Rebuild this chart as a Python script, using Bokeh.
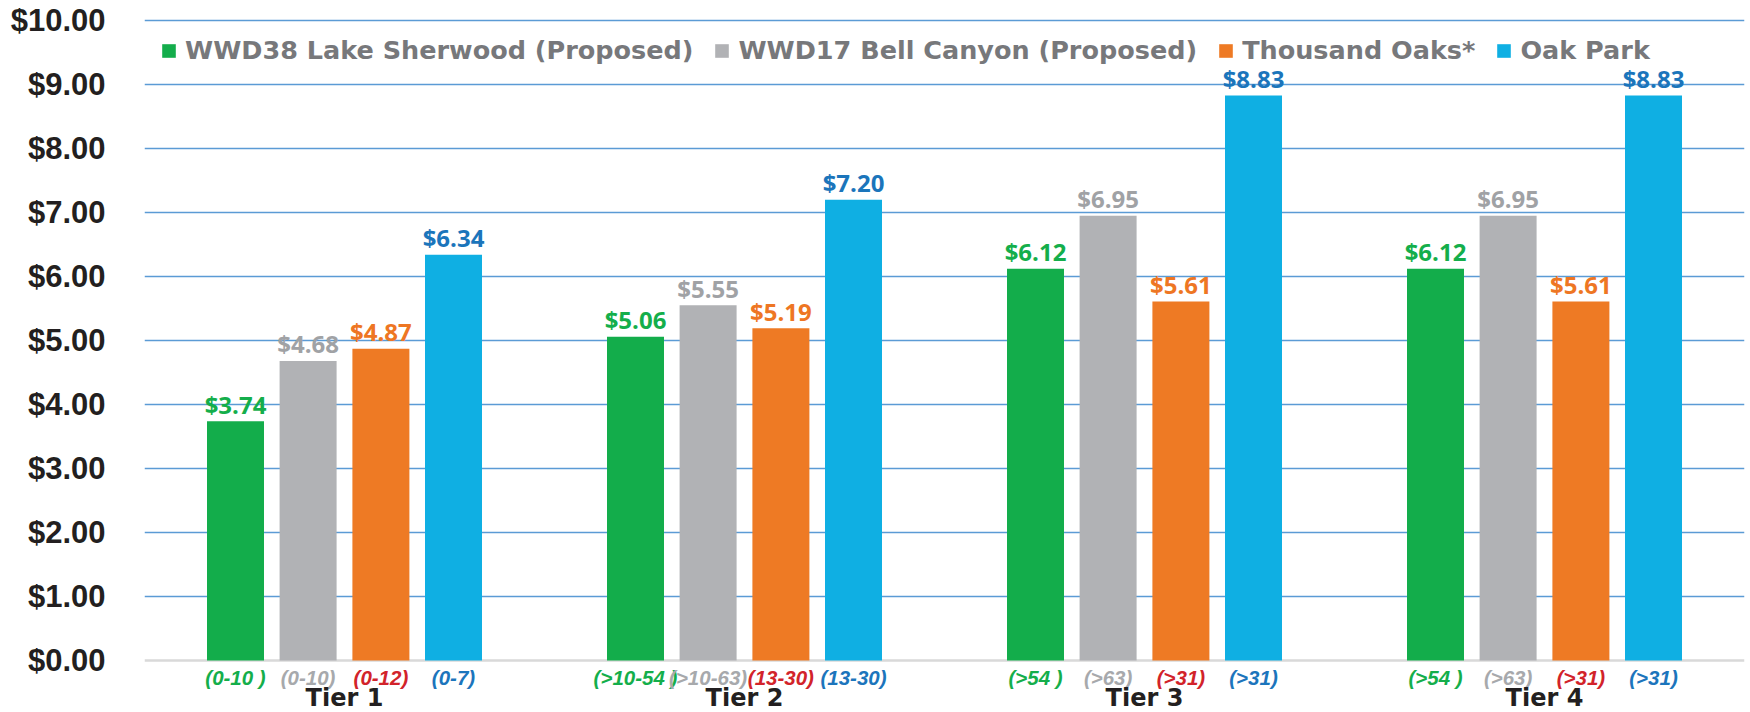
from bokeh.plotting import figure
from bokeh.models import (FactorRange, Range1d, FixedTicker, PrintfTickFormatter,
                          Span, Legend, LegendItem, ColumnDataSource)
from bokeh.transform import dodge
from bokeh.core.properties import value
from bokeh.embed import file_html
from bokeh.resources import INLINE

# ---------------- data ----------------
tiers = ["Tier 1", "Tier 2", "Tier 3", "Tier 4"]
series_names = ["WWD38 Lake Sherwood (Proposed)", "WWD17 Bell Canyon (Proposed)",
                "Thousand Oaks*", "Oak Park"]
wwd38_rates = [3.74, 5.06, 6.12, 6.12]
wwd17_rates = [4.68, 5.55, 6.95, 6.95]
thousand_oaks_rates = [4.87, 5.19, 5.61, 5.61]
oak_park_rates = [6.34, 7.20, 8.83, 8.83]
wwd38_ranges = ["(0-10 )", "(>10-54 )", "(>54 )", "(>54 )"]
wwd17_ranges = ["(0-10)", "(>10-63)", "(>63)", "(>63)"]
thousand_oaks_ranges = ["(0-12)", "(13-30)", "(>31)", "(>31)"]
oak_park_ranges = ["(0-7)", "(13-30)", "(>31)", "(>31)"]
y_ticks = [0, 1, 2, 3, 4, 5, 6, 7, 8, 9, 10]

# ---------------- styles ----------------
bar_colors = ["#13ad4b", "#b1b2b5", "#ee7a24", "#0fafe3"]
value_colors = ["#14ae4b", "#a0a2a5", "#ee7623", "#1b75bb"]
range_colors = ["#14ae4b", "#a7a9ac", "#d2232a", "#1c75bc"]
offsets = [-0.2725, -0.091, 0.091, 0.2725]
bar_width = 0.1425

p = figure(width=1750, height=712,
           x_range=FactorRange(*tiers, range_padding=0),
           y_range=Range1d(-0.8125, 10.03125),
           x_axis_location=None,
           output_backend="svg", toolbar_location=None,
           min_border_left=144, min_border_right=6,
           min_border_top=18, min_border_bottom=0)
p.outline_line_color = None
p.background_fill_color = "white"
p.border_fill_color = "white"

# axis
p.yaxis.ticker = FixedTicker(ticks=y_ticks)
p.yaxis.formatter = PrintfTickFormatter(format="$%.2f")
p.yaxis.axis_line_color = None
p.yaxis.major_tick_line_color = None
p.yaxis.minor_tick_line_color = None
p.yaxis.major_tick_out = 0
p.yaxis.major_tick_in = 0
p.yaxis.major_label_standoff = 39
p.yaxis.major_label_text_font = "Liberation Sans"
p.yaxis.major_label_text_font_style = "bold"
p.yaxis.major_label_text_font_size = "31px"
p.yaxis.major_label_text_color = "#231f20"

p.xgrid.grid_line_color = None
p.ygrid.ticker = FixedTicker(ticks=y_ticks[1:])
p.ygrid.grid_line_color = "#5b9bd5"
p.ygrid.grid_line_width = 1.5

p.add_layout(Span(location=0, dimension="width", line_color="#d9d9d9",
                  line_width=2.5, level="underlay"))

all_rates = [wwd38_rates, wwd17_rates, thousand_oaks_rates, oak_park_rates]
all_ranges = [wwd38_ranges, wwd17_ranges, thousand_oaks_ranges, oak_park_ranges]

items = []
for i in range(4):
    src = ColumnDataSource(dict(tier=tiers, val=all_rates[i],
                                lab=["$%.2f" % v for v in all_rates[i]],
                                rng=all_ranges[i]))
    xd = dodge("tier", offsets[i], range=p.x_range)
    r = p.vbar(x=xd, top="val", bottom=0, width=bar_width, source=src,
               fill_color=bar_colors[i], line_color=None)
    p.text(x=xd, y="val", text="lab", source=src, text_align="center",
           text_baseline="middle", y_offset=-17,
           text_font=value("Open Sans"), text_font_style="bold",
           text_font_size="24px", text_color=value_colors[i])
    p.text(x=xd, y=-0.265, text="rng", source=src, text_align="center",
           text_baseline="middle",
           text_font=value("Liberation Sans"), text_font_style="bold italic",
           text_font_size="20.5px", text_color=range_colors[i])
    items.append(LegendItem(label=series_names[i], renderers=[r]))

tier_src = ColumnDataSource(dict(tier=tiers))
p.text(x="tier", y=-0.58, text="tier", source=tier_src, text_align="center",
       text_baseline="middle", text_font=value("DejaVu Sans"),
       text_font_style="bold", text_font_size="24px", text_color="#231f20")

legend = Legend(items=items, orientation="horizontal", location=(16, 647),
                spacing=20, label_standoff=8, glyph_width=17, glyph_height=17,
                label_height=17, padding=0, margin=0, border_line_color=None,
                background_fill_alpha=0,
                label_text_font="DejaVu Sans", label_text_font_style="bold",
                label_text_font_size="25.5px", label_text_color="#77787b")
p.add_layout(legend)

open("out.html", "w").write(file_html(p, INLINE))
